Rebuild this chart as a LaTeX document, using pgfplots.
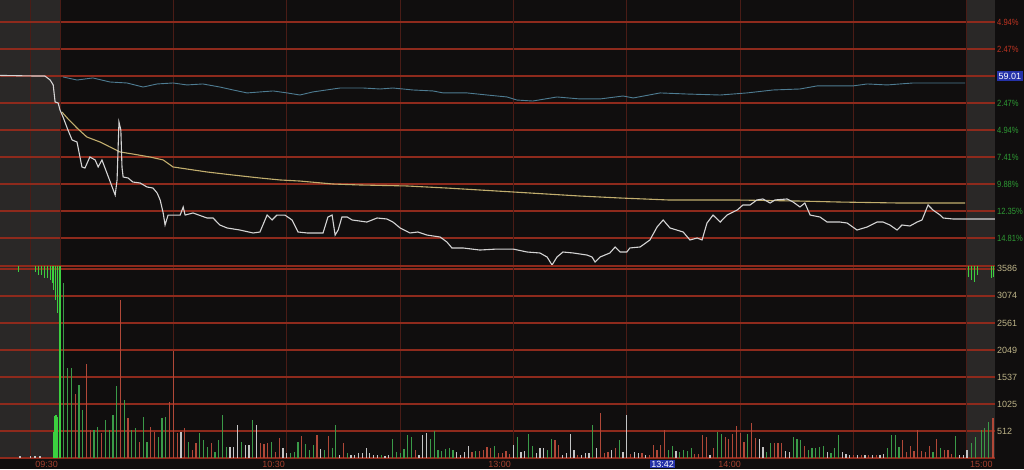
\documentclass[border=0pt]{standalone}
\usepackage{pgfplots}
\pgfplotsset{compat=1.18}
\usepackage{fontspec}
\setmainfont{Liberation Sans}

\definecolor{bg}{HTML}{100E0E}
\definecolor{panel}{HTML}{2A2827}
\definecolor{hgrid}{HTML}{8E2A1C}
\definecolor{vfaint}{HTML}{4A1C16}
\definecolor{vmain}{HTML}{7E2A1E}
\definecolor{pline}{HTML}{D4D4D4}
\definecolor{avgline}{HTML}{C2AE6E}
\definecolor{idxline}{HTML}{4E7C92}
\definecolor{vgreen}{HTML}{3A9A48}
\definecolor{bgreen}{HTML}{3CD040}
\definecolor{vred}{HTML}{B04838}
\definecolor{vwhite}{HTML}{C4C4C4}
\definecolor{lblred}{HTML}{C03422}
\definecolor{lblgreen}{HTML}{2E9A34}
\definecolor{lblvol}{HTML}{BEB488}
\definecolor{lbltime}{HTML}{A3402E}
\definecolor{boxblue}{HTML}{2532A8}

\newcommand{\pct}[2]{\scalebox{0.84}[1]{\textcolor{#1}{#2\%}}}

% x = minutes after 09:30 (trading time), -15.9 = 09:15 auction
\pgfplotsset{panel/.style={
    scale only axis, width=995pt,
    xmin=-15.88, xmax=247.42,
    axis line style={draw=none}, tick style={draw=none},
    xtick={-7.94,30,60,90,150,180,210}, xticklabels={},
    extra x ticks={0,120,240}, extra x tick labels={},
    extra x tick style={major grid style={vmain, line width=1.2pt}},
    xmajorgrids, x grid style={vfaint, line width=1pt},
    ymajorgrids, y grid style={hgrid, line width=1.3pt},
    yticklabel pos=right,
    yticklabel style={anchor=west, inner sep=0pt, xshift=2pt,
        font=\fontsize{9}{10}\selectfont},
}}

\begin{document}
\begin{tikzpicture}
\useasboundingbox (0pt,0pt) rectangle (1024pt,469pt);
\fill[bg] (0pt,0pt) rectangle (1024pt,469pt);
\fill[panel] (0pt,11pt) rectangle (60pt,469pt);
\fill[panel] (967pt,11pt) rectangle (995pt,469pt);

% price panel, change vs. previous close 59.01 in %
\begin{axis}[panel, at={(0pt,203pt)}, anchor=south west, height=266pt,
    ymin=-17.38, ymax=6.95,
    ytick={-14.81,-12.35,-9.88,-7.41,-4.94,-2.47,0,2.47,4.94},
    yticklabels={\pct{lblgreen}{14.81},\pct{lblgreen}{12.35},
        \pct{lblgreen}{9.88},\pct{lblgreen}{7.41},
        \pct{lblgreen}{4.94},\pct{lblgreen}{2.47},
        {\setlength{\fboxsep}{1.5pt}\colorbox{boxblue}{\textcolor{white}{59.01}}},
        \pct{lblred}{2.47},\pct{lblred}{4.94}},
    extra y ticks={0}, extra y tick labels={},
    extra y tick style={major grid style={hgrid, line width=1.8pt}},
]
% index line
\addplot[idxline, line width=0.9pt] coordinates {
(0.8,-0.09) (4.5,-0.37) (8.7,-0.18) (13.2,-0.55) (17.7,-0.64) (22.0,-1.01)
(25.7,-0.73) (29.9,-0.64) (33.6,-0.82) (37.8,-0.73) (42.3,-1.01) (45.8,-1.28)
(49.5,-1.55) (52.9,-1.46) (56.4,-1.37) (60.1,-1.55) (63.5,-1.74) (66.9,-1.46)
(74.1,-1.10) (80.2,-1.10) (84.7,-1.19) (88.1,-1.10) (93.4,-1.28) (98.7,-1.37)
(101.4,-1.55) (107.7,-1.55) (113.0,-1.74) (118.3,-1.92) (120.9,-2.20) (125.1,-2.29)
(131.5,-1.92) (137.6,-2.10) (142.9,-2.10) (149.0,-1.83) (151.7,-2.01) (158.8,-1.55)
(165.9,-1.65) (174.7,-1.74) (181.8,-1.55) (188.7,-1.28) (195.8,-1.19) (200.3,-0.91)
(204.5,-0.91) (209.8,-0.91) (213.6,-0.73) (218.9,-0.82) (225.7,-0.64) (232.9,-0.64)
(239.5,-0.64)
};
% average price line
\addplot[avgline, line width=1.1pt] coordinates {
(0.5,-3.29) (1.9,-3.84) (4.5,-4.76) (7.1,-5.58) (10.6,-6.04) (13.2,-6.49)
(15.9,-6.95) (19.3,-7.14) (23.8,-7.41) (27.3,-7.68) (29.9,-8.32) (33.6,-8.51)
(38.9,-8.78) (45.8,-9.06) (52.9,-9.33) (58.2,-9.51) (63.5,-9.61) (72.2,-9.88)
(79.4,-9.97) (91.8,-10.06) (102.4,-10.25) (119.9,-10.61) (137.6,-10.98)
(148.2,-11.16) (160.9,-11.34) (178.6,-11.34) (195.8,-11.44) (206.4,-11.53)
(222.3,-11.62) (239.5,-11.62)
};
% price line
\addplot[pline, line width=1.1pt] coordinates {
(-15.88,0.05) (-7.1,0.0) (-4.0,0.0) (-2.6,-0.37) (-1.8,-0.82) (-1.3,-2.38)
(-0.5,-2.47) (0,-3.11) (0.8,-3.75) (2.1,-4.94) (3.2,-5.85) (4.5,-6.04)
(5.8,-8.32) (6.6,-8.42) (7.9,-7.41) (9.3,-7.68) (10.1,-8.32) (11.1,-7.68)
(12.4,-8.87) (13.8,-10.15) (14.6,-10.89) (15.1,-9.51) (15.6,-4.21) (16.1,-4.94)
(16.4,-8.32) (16.7,-9.24) (18.0,-9.33) (19.3,-9.70) (21.2,-9.79) (23.0,-10.15)
(24.6,-10.25) (25.7,-10.70) (26.5,-11.34) (27.3,-12.53) (27.8,-13.63) (28.6,-12.72)
(31.8,-12.72) (32.6,-11.98) (33.1,-12.72) (35.2,-12.53) (38.9,-12.99) (40.5,-12.99)
(42.3,-13.63) (44.2,-13.90) (47.6,-14.09) (51.1,-14.36) (52.9,-14.27) (54.8,-12.72)
(56.1,-13.17) (57.4,-12.72) (59.5,-12.72) (61.4,-13.17) (63.0,-14.27) (65.4,-14.36)
(69.6,-14.36) (70.9,-12.90) (72.0,-12.72) (72.8,-14.55) (73.6,-14.09) (74.6,-12.90)
(76.0,-12.90) (77.3,-13.17) (81.2,-13.36) (83.9,-12.99) (86.5,-13.08) (88.1,-13.36)
(90.0,-13.90) (92.6,-14.36) (94.7,-14.27) (97.1,-14.55) (100.6,-14.73) (102.4,-15.19)
(103.7,-15.73) (106.6,-15.73) (111.1,-15.92) (115.6,-15.83) (119.9,-15.83) (123.6,-16.10)
(127.0,-16.19) (128.9,-16.56) (130.2,-17.29) (131.5,-16.56) (133.1,-16.10) (135.8,-16.19)
(139.5,-16.38) (140.8,-16.56) (141.6,-17.02) (142.9,-16.56) (145.5,-16.19) (146.9,-15.64)
(148.2,-16.10) (150.0,-16.10) (150.8,-15.73) (153.5,-15.64) (156.1,-15.00) (158.0,-13.81)
(159.6,-13.17) (161.4,-13.90) (164.9,-14.27) (166.7,-15.00) (168.6,-14.82) (169.9,-15.00)
(171.2,-13.45) (172.8,-12.72) (174.7,-13.36) (176.5,-12.72) (179.2,-12.26) (180.7,-11.80)
(182.6,-11.80) (184.4,-11.34) (186.0,-11.25) (187.9,-11.62) (189.2,-11.34) (192.4,-11.25)
(194.0,-11.53) (195.8,-11.98) (197.1,-11.62) (198.5,-12.72) (201.1,-12.90) (203.0,-13.36)
(206.4,-13.36) (208.3,-13.45) (210.9,-14.09) (213.6,-13.81) (216.2,-13.36) (217.8,-13.36)
(219.6,-13.63) (221.5,-14.09) (222.8,-13.63) (224.9,-13.72) (226.8,-13.36) (228.1,-13.17)
(229.7,-11.80) (231.0,-12.26) (232.9,-12.72) (233.7,-12.99) (236.3,-13.08) (239.5,-13.08)
(247.4,-13.08)
};
\end{axis}

% volume panel
\begin{axis}[panel, at={(0pt,11pt)}, anchor=south west, height=192pt,
    ymin=0, ymax=3641,
    ytick={0,512,1025,1537,2049,2561,3074,3586},
    yticklabels={,\textcolor{lblvol}{512},\textcolor{lblvol}{1025},
        \textcolor{lblvol}{1537},\textcolor{lblvol}{2049},\textcolor{lblvol}{2561},
        \textcolor{lblvol}{3074},\textcolor{lblvol}{3586}},
    extra y ticks={3641}, extra y tick labels={},
    extra y tick style={major grid style={hgrid, line width=1.6pt}},
    unbounded coords=jump,
]
% auction imbalance bars hanging from the top
\addplot[bgreen, line width=1pt, mark=none] coordinates {
(-11.1,3641) (-11.1,3527) (-11.1,nan) (-6.6,3641) (-6.6,3527) (-6.6,nan)
(-5.8,3641) (-5.8,3470) (-5.8,nan) (-4.8,3641) (-4.8,3470) (-4.8,nan)
(-4.0,3641) (-4.0,3413) (-4.0,nan) (-3.2,3641) (-3.2,3413) (-3.2,nan)
(-2.6,3641) (-2.6,3375) (-2.6,nan) (-2.1,3641) (-2.1,3318) (-2.1,nan)
(-1.6,3641) (-1.6,3185) (-1.6,nan) (-1.1,3641) (-1.1,2996) (-1.1,nan)
(-0.7,3641) (-0.7,2749) (-0.7,nan)
(240.3,3641) (240.3,3432) (240.3,nan) (241.1,3641) (241.1,3375) (241.1,nan)
(241.9,3641) (241.9,3337) (241.9,nan) (242.7,3641) (242.7,3470) (242.7,nan)
(246.4,3641) (246.4,3413) (246.4,nan) (246.9,3641) (246.9,3432)
};
\addplot[ycomb, bgreen, line width=1.2pt, mark=none] coordinates {
(-1.8,500) (-1.5,800) (-1.2,815) (-0.9,815) (-0.6,780)
};
\addplot[ycomb, bgreen, line width=2.5pt, mark=none] coordinates {(0,3641)};
\addplot[ycomb, vgreen, line width=1.2pt, mark=none] coordinates {
(1,3318) (2,1706) (3,1706) (5,1384) (6,910) (9,531) (10,588) (12,720) (13,531)
(14,815) (15,1365) (17,1100) (19,531) (20,569) (22,777) (23,303) (26,398) (27,758)
(28,777) (34,303) (37,474) (38,341) (39,209) (41,114) (42,341) (43,815) (44,209)
(48,303) (51,720) (56,303) (61,95) (62,114) (63,303) (65,265) (66,152) (67,246)
(70,152) (72,190) (73,626) (76,95) (85,57) (88,360) (89,114) (90,95) (91,171)
(92,436) (93,398) (98,360) (99,512) (100,152) (101,133) (102,171) (103,190)
(104,152) (110,133) (115,228) (121,398) (124,455) (125,228) (129,152) (130,360)
(141,626) (148,341) (161,152) (162,228) (164,114) (165,152) (166,133) (167,190)
(174,493) (175,455) (182,455) (187,114) (188,284) (194,398) (195,360) (196,341)
(198,152) (199,190) (200,190) (201,209) (202,228) (204,95) (205,190) (206,436)
(219,190) (220,436) (221,436) (222,209) (231,114) (233,190) (237,417)
(241.3,284) (242.3,398) (243.9,531) (244.7,569) (245.8,683)
};
\addplot[ycomb, vred, line width=1.2pt, mark=none] coordinates {
(4,1213) (7,1782) (8,531) (11,474) (16,2996) (18,758) (21,303) (24,588) (25,493)
(29,1062) (30,2029) (31,474) (33,569) (35,152) (36,284) (40,284) (53,284) (54,265)
(55,284) (57,114) (58,379) (64,417) (68,436) (71,417) (75,284) (94,152) (109,114)
(111,133) (112,152) (113,209) (114,190) (116,95) (117,95) (118,133) (119,76)
(131,341) (132,246) (137,57) (143,853) (144,95) (145,114) (147,190) (151,76)
(154,95) (156,57) (157,246) (158,152) (159,246) (160,531) (168,76) (169,76)
(170,436) (171,398) (173,190) (176,398) (177,360) (178,455) (179,607) (180,474)
(181,303) (183,664) (184,379) (189,284) (190,284) (191,284) (197,228) (210,60)
(212,60) (214,60) (216,60) (223,341) (224,114) (225,228) (226,133) (227,531)
(228,133) (229,114) (230,228) (232,360) (234,152) (235,152) (236,76) (246.9,758)
};
\addplot[ycomb, vwhite, line width=1.2pt, mark=none] coordinates {
(-10.6,40) (-7.9,40) (-6.6,40) (-5.3,40)
(32,493) (45,209) (46,209) (47,626) (49,246) (50,246) (52,626) (59,190) (60,95)
(69,171) (74,60) (77,57) (78,57) (79,95) (80,95) (81,190) (82,95) (83,57) (84,50)
(86,40) (87,57) (95,57) (96,436) (97,474) (105,114) (106,57) (107,114) (108,228)
(120,246) (122,114) (123,133) (126,95) (127,190) (128,190) (133,57) (134,95)
(135,455) (136,152) (138,57) (139,95) (140,95) (142,190) (146,152) (149,114)
(150,815) (152,114) (153,95) (155,57) (163,133) (172,60) (185,360) (186,209)
(192,133) (193,114) (203,114) (207,114) (208,76) (209,60) (211,60) (213,60)
(215,60) (217,60) (218,76) (238,60) (239,60) (240,152)
};
\end{axis}

% time axis labels
\begin{scope}[every node/.style={inner sep=1pt, font=\fontsize{9}{10}\selectfont}]
\node[anchor=east, text=lbltime] at (59pt,5pt) {09:30};
\node[anchor=east, text=lbltime] at (286pt,5pt) {10:30};
\node[anchor=east, text=lbltime] at (512pt,5pt) {13:00};
\node[anchor=east, fill=boxblue, text=white] at (675pt,5pt) {13:42};
\node[anchor=east, text=lbltime] at (742pt,5pt) {14:00};
\node[anchor=west, text=lbltime] at (969pt,5pt) {15:00};
\end{scope}
\end{tikzpicture}
\end{document}
